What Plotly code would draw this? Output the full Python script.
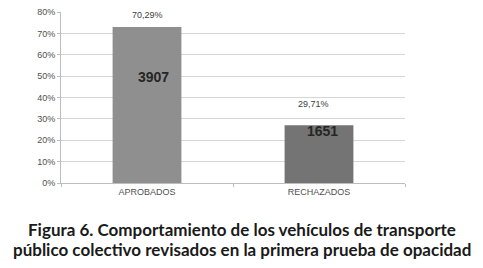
import plotly.graph_objects as go

categories = ["APROBADOS", "RECHAZADOS"]
bar_heights = [73.0, 27.0]          # percent, as drawn
pct_labels = ["70,29%", "29,71%"]
count_labels = ["3907", "1651"]
bar_colors = ["#8f8f8f", "#747474"]
y_ticks = list(range(0, 81, 10))
y_tick_text = [f"{v}%" for v in y_ticks]
caption_lines = ["Figura 6. Comportamiento de los vehículos de transporte",
                 "público colectivo revisados en la primera prueba de opacidad"]

fig = go.Figure()
fig.add_trace(go.Bar(
    x=categories, y=bar_heights,
    marker=dict(color=bar_colors, line=dict(width=0)),
    hoverinfo="skip",
))

axis_font = dict(family="Liberation Sans, Arial, sans-serif", size=9, color="#505050")

pct_shift = [12, 21]
cnt_shift = [-50, -6]
cnt_xshift = [6, 3]
for i, c in enumerate(categories):
    fig.add_annotation(x=c, y=bar_heights[i], text=pct_labels[i], showarrow=False,
                       yshift=pct_shift[i], xshift=(0 if i == 0 else -6),
                       font=dict(family="Liberation Sans, Arial, sans-serif", size=9, color="#404040"))
    fig.add_annotation(x=c, y=bar_heights[i], text=f"<b>{count_labels[i]}</b>", showarrow=False,
                       yshift=cnt_shift[i], xshift=cnt_xshift[i], yanchor="middle",
                       font=dict(family="Liberation Sans, Arial, sans-serif", size=14, color="#262626"))

for line, ypos in zip(caption_lines, [-0.272, -0.386]):
    fig.add_annotation(xref="paper", yref="paper", x=0.526, y=ypos, xanchor="center", yanchor="middle",
                       text=f"<b>{line}</b>", showarrow=False, align="center",
                       font=dict(family="Lato, sans-serif", size=17, color="#1a1a1a"))

fig.update_layout(
    width=475, height=260,
    margin=dict(l=53, r=78, t=4, b=85, autoexpand=False),
    paper_bgcolor="white", plot_bgcolor="white",
    bargap=0.6, showlegend=False,
    xaxis=dict(range=[-0.5, 1.5], showline=True, linecolor="#bdbdbd", linewidth=1,
               ticks="outside", tickson="boundaries", ticklen=3, tickcolor="#bdbdbd",
               tickfont=axis_font, showgrid=False, fixedrange=True, automargin=False),
    yaxis=dict(range=[0, 80], tickvals=y_ticks, ticktext=y_tick_text, showline=True,
               linecolor="#bdbdbd", linewidth=1, ticks="outside", ticklen=3, tickcolor="#bdbdbd",
               showgrid=True, gridcolor="#d6d6d6", gridwidth=1, zeroline=False,
               ticklabeloverflow="allow",
               tickfont=axis_font, fixedrange=True, automargin=False),
)

fig.write_html("out.html")
